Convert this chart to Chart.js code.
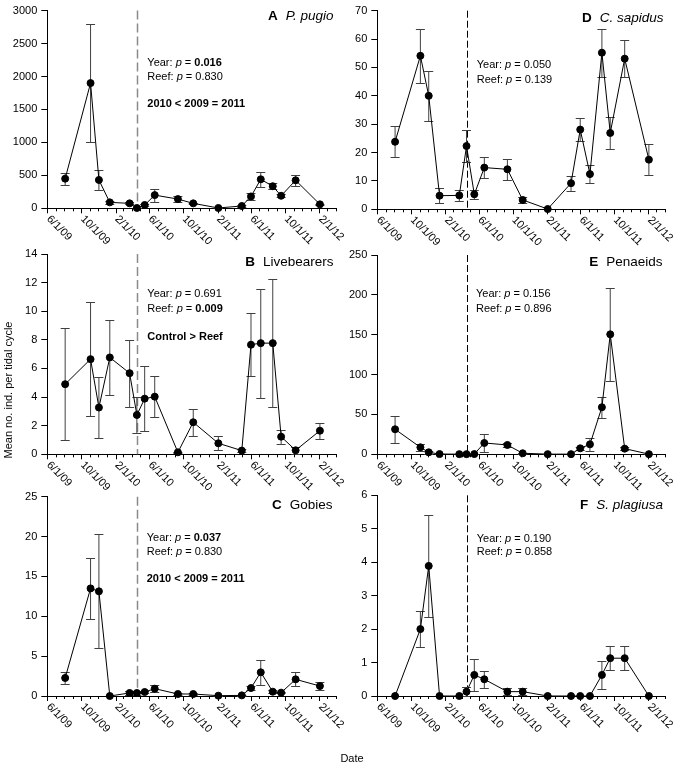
<!DOCTYPE html>
<html>
<head>
<meta charset="utf-8">
<title>Mean number of individuals per tidal cycle</title>
<script src="https://cdn.jsdelivr.net/npm/chart.js@4.4.1/dist/chart.umd.min.js"></script>
<style>
html, body { margin:0; padding:0; background:#fff; }
#fig { position:relative; width:674px; height:765px; overflow:hidden; background:#fff; font-family:"Liberation Sans", Arial, sans-serif; color:#000; }
#fig canvas { position:absolute; }
.lab { position:absolute; font-size:11px; white-space:nowrap; line-height:12px; height:12px; color:#000; text-align:center; font-family:"Liberation Sans", Arial, sans-serif; }
#ytitle { left:-62px; top:384px; width:140px; transform:rotate(-90deg); transform-origin:70px 6px; }
#xtitle { left:332px; top:752px; width:40px; }
</style>
</head>
<body>
<div id="fig">
  <canvas id="cA"></canvas>
  <canvas id="cD"></canvas>
  <canvas id="cB"></canvas>
  <canvas id="cE"></canvas>
  <canvas id="cC"></canvas>
  <canvas id="cF"></canvas>
  <div class="lab" id="ytitle">Mean no. ind. per tidal cycle</div>
  <div class="lab" id="xtitle">Date</div>
</div>
<script>
// ---------------- DATA ----------------
const sampleDates = ['2009-08-04','2009-11-03','2009-12-03','2010-01-11','2010-03-23','2010-04-18',
  '2010-05-16','2010-06-21','2010-09-12','2010-11-06','2011-02-04','2011-04-29',
  '2011-06-01','2011-07-06','2011-08-18','2011-09-17','2011-11-08','2012-02-03'];
const reefDate = '2010-04-19';
const xTickDates  = ['2009-06-01','2009-10-01','2010-02-01','2010-06-01','2010-10-01','2011-02-01','2011-06-01','2011-10-01','2012-02-01'];
const xTickLabels = ['6/1/09','10/1/09','2/1/10','6/1/10','10/1/10','2/1/11','6/1/11','10/1/11','2/1/12'];
const xStart = '2009-06-01';
const xEnd   = '2012-04-01';

const pugioMean = [450, 1900, 430, 90, 75, 5, 50, 200, 140, 75, 5, 35, 180, 440, 335, 190, 425, 60];
const pugioSE   = [90, 900, 150, 25, 15, 5, 15, 100, 40, 12, 5, 10, 55, 110, 45, 25, 85, 10];

const sapidusMean = [23.8, 54.1, 40.0, 4.8, 4.9, 22.3, 5.3, 14.7, 14.1, 3.3, 0.1, 9.2, 28.1, 12.4, 55.2, 26.9, 53.1, 17.5];
const sapidusSE   = [5.5, 9.6, 8.9, 2.6, 1.9, 5.7, 1.6, 3.6, 3.8, 1.1, 0, 2.6, 4.0, 3.3, 8.5, 5.5, 6.5, 5.4];

const livebearMean = [4.9, 6.65, 3.27, 6.77, 5.67, 2.75, 3.89, 4.03, 0.14, 2.24, 0.77, 0.26, 7.66, 7.77, 7.77, 1.23, 0.28, 1.65];
const livebearSE   = [3.93, 4.0, 2.14, 2.6, 2.35, 1.28, 2.25, 1.43, 0.05, 0.96, 0.49, 0.1, 2.2, 3.8, 4.45, 0.5, 0.25, 0.56];

const penaeidMean = [31.4, 8.8, 2.5, 0.3, 0.2, 0.2, 0.3, 14.2, 11.7, 1.3, 0.2, 0.2, 7.5, 12.5, 59, 150.5, 7.1, 0.2];
const penaeidSE   = [17, 4.2, 1.5, 0.2, 0.1, 0.1, 0.2, 10.9, 2.5, 0.8, 0.1, 0.1, 2.0, 8.4, 13.5, 58, 1.5, 0.1];

const gobyMean = [2.26, 13.5, 13.13, 0, 0.38, 0.38, 0.5, 0.92, 0.25, 0.25, 0.04, 0.08, 1.0, 2.97, 0.54, 0.42, 2.09, 1.25];
const gobySE   = [0.75, 3.85, 7.15, 0, 0.2, 0.2, 0.15, 0.45, 0.1, 0.1, 0.02, 0.05, 0.25, 1.6, 0.15, 0.1, 0.88, 0.56];

const plagiusaMean = [0, 2.0, 3.89, 0, 0, 0.13, 0.63, 0.5, 0.13, 0.13, 0, 0, 0, 0, 0.63, 1.13, 1.13, 0];
const plagiusaSE   = [0, 0.53, 1.53, 0, 0, 0.13, 0.49, 0.26, 0.1, 0.1, 0, 0, 0, 0, 0.42, 0.36, 0.36, 0];

// ---------------- HELPERS ----------------
const FONT = '"Liberation Sans", Arial, sans-serif';
const ORIGIN = Date.UTC(2009, 5, 1);
function dayOf(s) { const [y, m, d] = s.split('-').map(Number); return (Date.UTC(y, m - 1, d) - ORIGIN) / 86400000; }

const monthTicks = [];
(function () {
  const end = dayOf(xEnd);
  for (let y = 2009, m = 5; ; m++) {
    if (m > 11) { m = 0; y++; }
    const s = y + '-' + String(m + 1).padStart(2, '0') + '-01';
    const d = dayOf(s);
    if (d > end) break;
    monthTicks.push({ day: d, major: xTickDates.indexOf(s) >= 0 });
  }
})();

function drawRich(ctx, segs, x, y, align, size) {
  const widths = segs.map(s => { ctx.font = (s.f || 'normal') + ' ' + size + 'px ' + FONT; return s.gap != null ? s.gap : ctx.measureText(s.t).width; });
  const total = widths.reduce((a, b) => a + b, 0);
  let cx = align === 'right' ? x - total : x;
  segs.forEach((s, i) => {
    if (s.gap == null) { ctx.font = (s.f || 'normal') + ' ' + size + 'px ' + FONT; ctx.fillText(s.t, cx, y); }
    cx += widths[i];
  });
}

// ---------------- PANELS (layout) ----------------
const greyReef  = { color: '#8a8a8a', width: 1.5, dash: [9, 4] };
const blackReef = { color: '#000', width: 1, dash: [7, 3] };

const panels = [
  { id: 'cA', box: [0, 0, 350, 255], plot: { l: 47.3, t: 7.3, r: 336.1, b: 208.3 }, mean: pugioMean, se: pugioSE, yMax: 3000, yStep: 500,
    letter: 'A', name: 'P. pugio', italic: true, titleR: 333.5, titleB: 20, statX: 147.3, statY: [62.5, 77, 103.5],
    yearP: '0.016', yearBold: true, reefP: '0.830', reefBold: false, note: '2010 < 2009 = 2011', reef: greyReef },
  { id: 'cD', box: [337, 0, 337, 255], plot: { l: 377.3, t: 10.7, r: 665, b: 209.3 }, mean: sapidusMean, se: sapidusSE, yMax: 70, yStep: 10,
    letter: 'D', name: 'C. sapidus', italic: true, titleR: 663.5, titleB: 21.7, statX: 476.7, statY: [65, 80],
    yearP: '0.050', yearBold: false, reefP: '0.139', reefBold: false, note: null, reef: blackReef },
  { id: 'cB', box: [0, 240, 350, 255], plot: { l: 47.3, t: 254, r: 336.1, b: 454.3 }, mean: livebearMean, se: livebearSE, yMax: 14, yStep: 2,
    letter: 'B', name: 'Livebearers', italic: false, titleR: 333.5, titleB: 266, statX: 147.3, statY: [294.3, 309, 336.7],
    yearP: '0.691', yearBold: false, reefP: '0.009', reefBold: true, note: 'Control > Reef', reef: greyReef },
  { id: 'cE', box: [337, 240, 337, 255], plot: { l: 377.3, t: 255, r: 665, b: 454.3 }, mean: penaeidMean, se: penaeidSE, yMax: 250, yStep: 50,
    letter: 'E', name: 'Penaeids', italic: false, titleR: 662.5, titleB: 266, statX: 476, statY: [294.3, 309],
    yearP: '0.156', yearBold: false, reefP: '0.896', reefBold: false, note: null, reef: blackReef },
  { id: 'cC', box: [0, 480, 350, 270], plot: { l: 47.3, t: 496.7, r: 336.1, b: 696 }, mean: gobyMean, se: gobySE, yMax: 25, yStep: 5,
    letter: 'C', name: 'Gobies', italic: false, titleR: 332.5, titleB: 508.5, statX: 146.7, statY: [538.3, 552.3, 579.3],
    yearP: '0.037', yearBold: true, reefP: '0.830', reefBold: false, note: '2010 < 2009 = 2011', reef: greyReef },
  { id: 'cF', box: [337, 480, 337, 270], plot: { l: 377.3, t: 495.3, r: 665, b: 696 }, mean: plagiusaMean, se: plagiusaSE, yMax: 6, yStep: 1,
    letter: 'F', name: 'S. plagiusa', italic: true, titleR: 663, titleB: 509.3, statX: 476.7, statY: [538.7, 552.3],
    yearP: '0.190', yearBold: false, reefP: '0.858', reefBold: false, note: null, reef: blackReef }
];

function makeDeco(p) {
  const [cx, cy] = p.box;
  return {
    id: 'deco',
    beforeDatasetsDraw(chart) {
      const { ctx, chartArea: ca, scales: { x: xs, y: ys } } = chart;
      ctx.save();
      const rx = Math.round(xs.getPixelForValue(dayOf(reefDate))) + 0.5;
      ctx.strokeStyle = p.reef.color; ctx.lineWidth = p.reef.width; ctx.setLineDash(p.reef.dash);
      ctx.beginPath(); ctx.moveTo(rx, ca.top); ctx.lineTo(rx, ca.bottom); ctx.stroke();
      ctx.setLineDash([]);
      ctx.strokeStyle = '#404040'; ctx.lineWidth = 1;
      sampleDates.forEach((d, i) => {
        const se = p.se[i]; if (!se) return;
        const m = p.mean[i];
        const x = xs.getPixelForValue(dayOf(d));
        const yt = Math.round(ys.getPixelForValue(m + se)) + 0.5;
        const yb = Math.round(ys.getPixelForValue(Math.max(0, m - se))) + 0.5;
        ctx.beginPath();
        ctx.moveTo(x, yt); ctx.lineTo(x, yb);
        ctx.moveTo(x - 4.5, yt); ctx.lineTo(x + 4.5, yt);
        ctx.moveTo(x - 4.5, yb); ctx.lineTo(x + 4.5, yb);
        ctx.stroke();
      });
      ctx.restore();
    },
    afterDraw(chart) {
      const { ctx, chartArea: ca, scales: { x: xs } } = chart;
      ctx.save();
      ctx.strokeStyle = '#000'; ctx.lineWidth = 1;
      monthTicks.forEach(t => {
        const x = Math.round(xs.getPixelForValue(t.day)) + 0.5;
        ctx.beginPath(); ctx.moveTo(x, ca.bottom); ctx.lineTo(x, ca.bottom + (t.major ? 5 : 3)); ctx.stroke();
      });
      ctx.fillStyle = '#000'; ctx.font = '11px ' + FONT; ctx.textAlign = 'left'; ctx.textBaseline = 'middle';
      xTickDates.forEach((d, i) => {
        const x = xs.getPixelForValue(dayOf(d));
        ctx.save(); ctx.translate(x + 1, ca.bottom + 9); ctx.rotate(Math.PI / 4); ctx.fillText(xTickLabels[i], 0, 0); ctx.restore();
      });
      ctx.textBaseline = 'alphabetic';
      drawRich(ctx, [{ t: p.letter, f: 'bold' }, { gap: 8 }, { t: p.name, f: p.italic ? 'italic' : 'normal' }], p.titleR - cx, p.titleB - cy, 'right', 13.5);
      ctx.textBaseline = 'middle';
      drawRich(ctx, [{ t: 'Year: ' }, { t: 'p', f: 'italic' }, { t: ' = ' }, { t: p.yearP, f: p.yearBold ? 'bold' : 'normal' }], p.statX - cx, p.statY[0] - cy, 'left', 11);
      drawRich(ctx, [{ t: 'Reef: ' }, { t: 'p', f: 'italic' }, { t: ' = ' }, { t: p.reefP, f: p.reefBold ? 'bold' : 'normal' }], p.statX - cx, p.statY[1] - cy, 'left', 11);
      if (p.note) drawRich(ctx, [{ t: p.note, f: 'bold' }], p.statX - cx, p.statY[2] - cy, 'left', 11);
      ctx.restore();
    }
  };
}

panels.forEach(p => {
  const cv = document.getElementById(p.id);
  const [cx, cy, w, h] = p.box;
  cv.width = w; cv.height = h;
  cv.style.left = cx + 'px'; cv.style.top = cy + 'px';
  cv.style.width = w + 'px'; cv.style.height = h + 'px';
  new Chart(cv, {
    type: 'line',
    data: {
      datasets: [{
        data: sampleDates.map((d, i) => ({ x: dayOf(d), y: p.mean[i] })),
        borderColor: '#000', borderWidth: 1, backgroundColor: '#000',
        pointRadius: 3.5, pointBorderWidth: 1, pointBackgroundColor: '#000', pointBorderColor: '#000',
        tension: 0, clip: false
      }]
    },
    options: {
      responsive: false, animation: false, devicePixelRatio: 1,
      layout: { padding: { top: p.plot.t - cy, right: cx + w - p.plot.r, left: 0, bottom: 0 } },
      plugins: { legend: { display: false }, tooltip: { enabled: false } },
      scales: {
        x: {
          type: 'linear', min: dayOf(xStart), max: dayOf(xEnd),
          ticks: { display: false },
          grid: { display: true, drawOnChartArea: false, drawTicks: false },
          border: { display: true, color: '#000', width: 1 },
          afterFit: s => { s.height = cy + h - p.plot.b; }
        },
        y: {
          type: 'linear', min: 0, max: p.yMax,
          ticks: { stepSize: p.yStep, color: '#000', font: { family: FONT, size: 11 }, padding: 4, callback: v => String(v) },
          grid: { display: true, drawOnChartArea: false, drawTicks: true, tickLength: 6, color: '#000' },
          border: { display: true, color: '#000', width: 1 },
          afterFit: s => { s.width = p.plot.l - cx; }
        }
      }
    },
    plugins: [makeDeco(p)]
  });
});
</script>
</body>
</html>
